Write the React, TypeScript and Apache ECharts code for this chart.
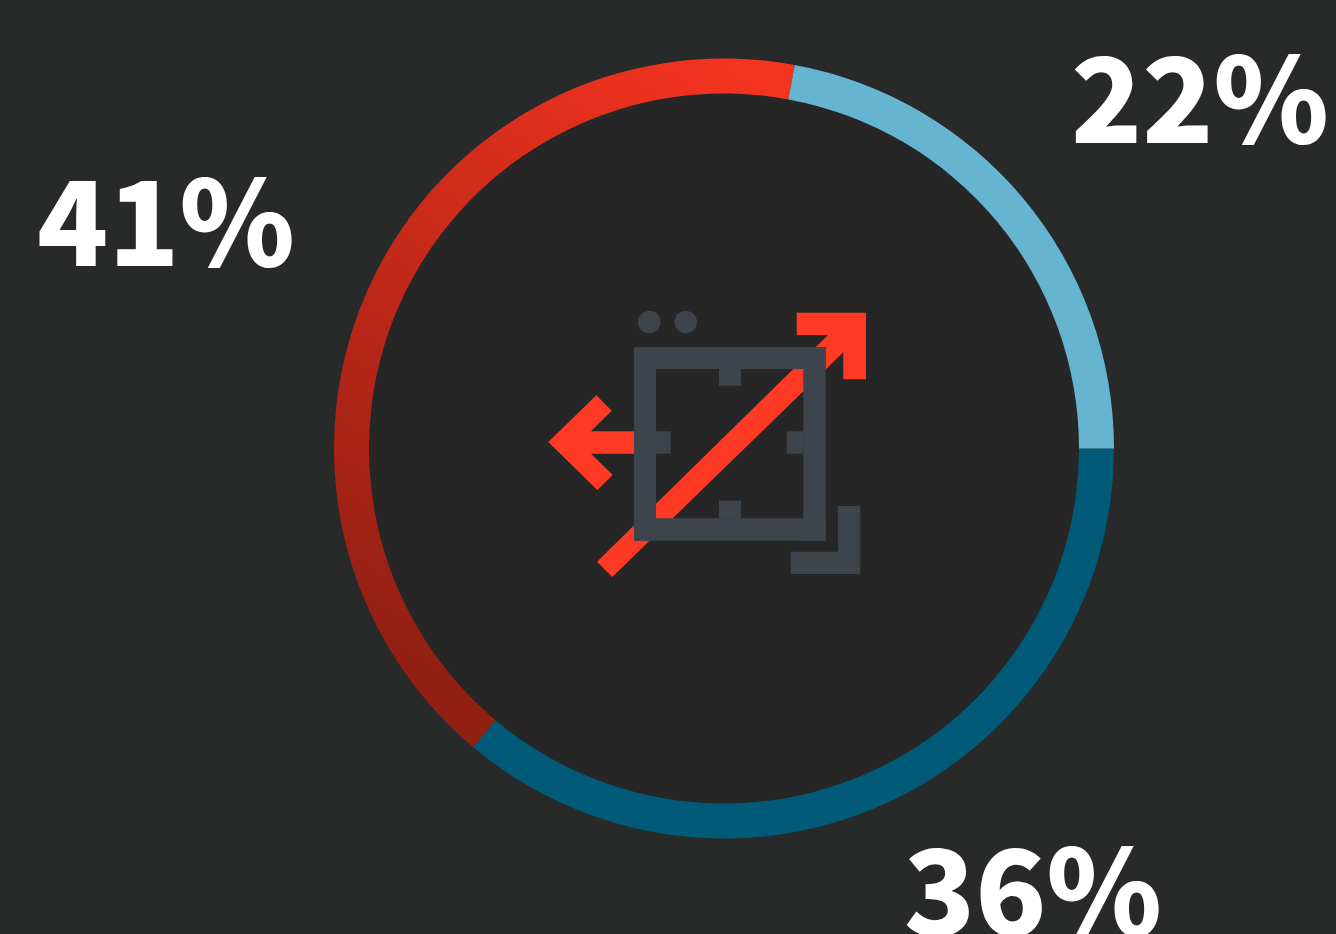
import React, { useEffect, useRef } from "react";
import * as echarts from "echarts";

const categories = ["Dark blue", "Red", "Light blue"];
const values = [35.8, 41.4, 21.9];
const labelFont = "Noto Sans CJK SC";

const RED = "#FF3A24";
const GREY = "#3E444C";

const poly = (points: number[][], fill: string) => ({
  type: "polygon",
  shape: { points },
  style: { fill },
});
const box = (x: number, y: number, width: number, height: number) => ({
  type: "rect",
  shape: { x, y, width, height },
  style: { fill: GREY },
});
const dot = (cx: number, cy: number) => ({
  type: "circle",
  shape: { cx, cy, r: 11.3 },
  style: { fill: GREY },
});

const iconElements = [
  { type: "circle", shape: { cx: 724, cy: 448.5, r: 355 }, style: { fill: "#262626" } },
  poly([[843.3, 320], [597, 561.7], [612.3, 577], [858, 338]], RED),
  poly([[796.7, 312.7], [866, 312.7], [866, 379.3], [843.3, 379.3], [843.3, 335], [796.7, 335]], RED),
  poly([[548.3, 442], [596.3, 395.3], [611.7, 410.7], [591, 431.3], [636, 431.3], [636, 453.7], [591, 453.7], [612.7, 475], [597.3, 490]], RED),
  box(634, 347, 191.7, 22),
  box(634, 518.3, 191.7, 22.4),
  box(634, 347, 22, 193.7),
  box(803.3, 347, 22.4, 193.7),
  box(719, 369, 22, 16.7),
  box(719, 500.7, 22, 17.6),
  box(656, 431.3, 14.7, 22.4),
  box(786.7, 431.3, 16.6, 22.4),
  dot(649.3, 322),
  dot(685.7, 322),
  poly([[838, 506], [860.3, 506], [860.3, 574], [790.7, 574], [790.7, 551.7], [838, 551.7]], GREY),
];

const labelPlaces = [
  { x: 1033, y: 884 },
  { x: 166, y: 215 },
  { x: 1200, y: 92 },
];

export default function App() {
  const ref = useRef<HTMLDivElement>(null);
  useEffect(() => {
    const chart = echarts.init(ref.current!, null, { renderer: "svg" });
    chart.setOption({
      animation: false,
      backgroundColor: "#282A29",
      graphic: { elements: iconElements },
      series: [
        {
          type: "pie",
          center: [724, 448.5],
          radius: [355, 390],
          startAngle: 0,
          clockwise: true,
          silent: true,
          z: 3,
          data: categories.map((name, i) => ({
            name,
            value: values[i],
            itemStyle: {
              color:
                i === 2
                  ? "#66B5D0"
                  : i === 0
                  ? "#005A78"
                  : new echarts.graphic.LinearGradient(0.9, 0, 0.5, 1, [
                      { offset: 0, color: "#F5341F" },
                      { offset: 1, color: "#931F13" },
                    ]),
            },
          })),
          label: {
            show: true,
            position: "outside",
            formatter: (p: any) => `${Math.round(p.value)}%`,
            fontFamily: labelFont,
            fontWeight: 900,
            fontSize: 117,
            color: "#FFFFFF",
            align: "center",
            verticalAlign: "middle",
            overflow: "none",
            width: 400,
          },
          labelLine: { show: false },
          labelLayout: (p: any) => ({
            ...labelPlaces[p.dataIndex],
            align: "center",
            verticalAlign: "middle",
          }),
        },
      ],
    });
    return () => chart.dispose();
  }, []);
  return (
    <div
      ref={ref}
      style={{ position: "fixed", left: 0, top: 0, width: 1336, height: 934 }}
    />
  );
}
